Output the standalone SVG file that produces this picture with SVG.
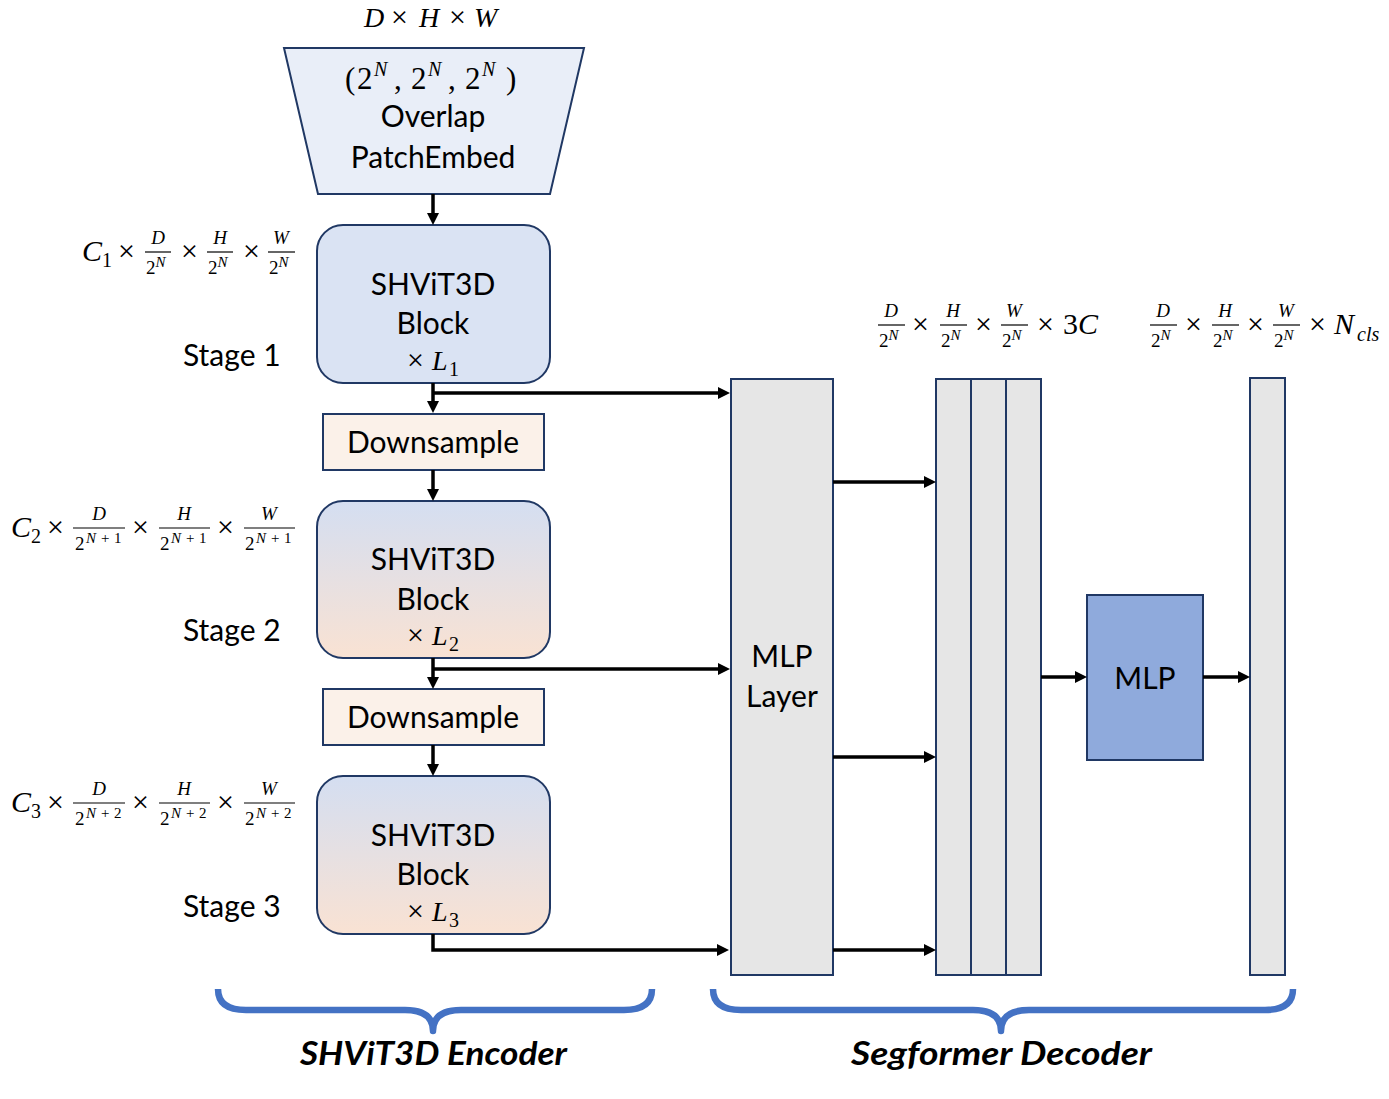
<svg xmlns="http://www.w3.org/2000/svg" width="1389" height="1099" viewBox="0 0 1389 1099">
<style>
.t{font-family:Lato,"Open Sans","Liberation Sans",sans-serif;font-size:30px;fill:#000}
.m{font-family:"Liberation Serif","DejaVu Serif",serif;font-size:28px;fill:#000}
.x{font-family:"Liberation Serif","DejaVu Serif",serif;font-size:30px;fill:#000}
.i{font-style:italic}
.n{font-family:"Liberation Serif","DejaVu Serif",serif;font-size:19px;font-style:italic;fill:#000}
.d{font-family:"Liberation Serif","DejaVu Serif",serif;font-size:19px;fill:#000}
.s{font-size:15px;font-style:italic}
.p{font-size:15px}
.sb{font-size:20px;font-style:italic}
.sub{font-size:20px}
.fl{stroke:#000;stroke-width:1.2}
.box{stroke:#203864;stroke-width:2}
.gray{fill:#E6E6E6}
.con{fill:none;stroke:#000;stroke-width:3.5}
.brace{fill:none;stroke:#4472C4;stroke-width:6.5;stroke-linejoin:round;stroke-linecap:butt}
.lab{font-family:Lato,"Open Sans","Liberation Sans",sans-serif;font-size:33px;font-weight:bold;font-style:italic;fill:#000}
</style>
<defs>
<marker id="ah" markerUnits="userSpaceOnUse" markerWidth="12" markerHeight="12" viewBox="0 0 12 12" refX="0" refY="6" orient="auto">
<path d="M0,0 L12,6 L0,12 z" fill="#000"/>
</marker>
<linearGradient id="g" x1="0" y1="0" x2="0" y2="1">
<stop offset="0" stop-color="#D4DEF1"/>
<stop offset="1" stop-color="#F9E2D3"/>
</linearGradient>
</defs>
<rect width="1389" height="1099" fill="#fff"/>

<g id="input-size">
<text class="m i" x="364" y="27">D</text>
<text class="x" x="391" y="27">×</text>
<text class="m i" x="419" y="27">H</text>
<text class="x" x="449" y="27">×</text>
<text class="m i" x="474" y="27">W</text>
</g>

<g id="patch-embed">
<polygon class="box" points="284,48 584,48 550,194 318,194" fill="#E9EEF8"/>
<text class="m" y="89" style="font-size:31px"><tspan x="345">(</tspan><tspan x="357">2</tspan><tspan x="411">2</tspan><tspan x="465">2</tspan><tspan x="506">)</tspan><tspan x="394">,</tspan><tspan x="448">,</tspan></text>
<text class="m sb" y="76"><tspan x="374">N</tspan><tspan x="428">N</tspan><tspan x="482">N</tspan></text>
<text class="t" x="433" y="127" text-anchor="middle">Overlap</text>
<text class="t" x="433" y="168" text-anchor="middle">PatchEmbed</text>
</g>

<g id="stage1">
<rect class="box" x="317" y="225" width="233" height="158" rx="26" fill="#DAE3F3"/>
<text class="t" x="433" y="295" text-anchor="middle">SHViT3D</text>
<text class="t" x="433" y="334" text-anchor="middle">Block</text>
<text class="x" x="407" y="370">×</text>
<text class="m i" x="432" y="370">L</text>
<text class="m sub" x="449" y="376">1</text>
<text class="t" x="183" y="366">Stage 1</text>
</g>

<g id="shape1">
<text class="m i" x="82" y="261" style="font-size:30px">C</text>
<text class="m sub" x="102" y="267">1</text>
<text class="x" x="118" y="261">×</text>
<line class="fl" x1="145" y1="252" x2="171" y2="252"/>
<text class="n" x="158" y="244" text-anchor="middle">D</text>
<text class="d" y="274"><tspan x="146">2</tspan><tspan class="s" dy="-7">N</tspan></text>
<text class="x" x="181" y="261">×</text>
<line class="fl" x1="207" y1="252" x2="233" y2="252"/>
<text class="n" x="220" y="244" text-anchor="middle">H</text>
<text class="d" y="274"><tspan x="208">2</tspan><tspan class="s" dy="-7">N</tspan></text>
<text class="x" x="243" y="261">×</text>
<line class="fl" x1="268" y1="252" x2="295" y2="252"/>
<text class="n" x="281" y="244" text-anchor="middle">W</text>
<text class="d" y="274"><tspan x="269">2</tspan><tspan class="s" dy="-7">N</tspan></text>
</g>

<g id="downsample1">
<rect class="box" x="323" y="414" width="221" height="56" fill="#FBF1E9"/>
<text class="t" x="433" y="453" text-anchor="middle">Downsample</text>
</g>

<g id="stage2">
<rect class="box" x="317" y="501" width="233" height="157" rx="26" fill="url(#g)"/>
<text class="t" x="433" y="570" text-anchor="middle">SHViT3D</text>
<text class="t" x="433" y="610" text-anchor="middle">Block</text>
<text class="x" x="407" y="645">×</text>
<text class="m i" x="432" y="645">L</text>
<text class="m sub" x="449" y="651">2</text>
<text class="t" x="183" y="641">Stage 2</text>
</g>

<g id="shape2">
<text class="m i" x="11" y="537" style="font-size:30px">C</text>
<text class="m sub" x="31" y="543">2</text>
<text class="x" x="47" y="537">×</text>
<line class="fl" x1="73" y1="528" x2="125" y2="528"/>
<text class="n" x="99" y="520" text-anchor="middle">D</text>
<text class="d" y="550"><tspan x="75">2</tspan><tspan class="s" dy="-7" x="86">N</tspan><tspan class="p" x="101">+</tspan><tspan class="p" x="114">1</tspan></text>
<text class="x" x="132" y="537">×</text>
<line class="fl" x1="159" y1="528" x2="210" y2="528"/>
<text class="n" x="184" y="520" text-anchor="middle">H</text>
<text class="d" y="550"><tspan x="160">2</tspan><tspan class="s" dy="-7" x="171">N</tspan><tspan class="p" x="186">+</tspan><tspan class="p" x="199">1</tspan></text>
<text class="x" x="217" y="537">×</text>
<line class="fl" x1="244" y1="528" x2="295" y2="528"/>
<text class="n" x="269" y="520" text-anchor="middle">W</text>
<text class="d" y="550"><tspan x="245">2</tspan><tspan class="s" dy="-7" x="256">N</tspan><tspan class="p" x="271">+</tspan><tspan class="p" x="284">1</tspan></text>
</g>

<g id="downsample2">
<rect class="box" x="323" y="689" width="221" height="56" fill="#FBF1E9"/>
<text class="t" x="433" y="728" text-anchor="middle">Downsample</text>
</g>

<g id="stage3">
<rect class="box" x="317" y="776" width="233" height="158" rx="26" fill="url(#g)"/>
<text class="t" x="433" y="846" text-anchor="middle">SHViT3D</text>
<text class="t" x="433" y="885" text-anchor="middle">Block</text>
<text class="x" x="407" y="921">×</text>
<text class="m i" x="432" y="921">L</text>
<text class="m sub" x="449" y="927">3</text>
<text class="t" x="183" y="917">Stage 3</text>
</g>

<g id="shape3">
<text class="m i" x="11" y="812" style="font-size:30px">C</text>
<text class="m sub" x="31" y="818">3</text>
<text class="x" x="47" y="812">×</text>
<line class="fl" x1="73" y1="803" x2="125" y2="803"/>
<text class="n" x="99" y="795" text-anchor="middle">D</text>
<text class="d" y="825"><tspan x="75">2</tspan><tspan class="s" dy="-7" x="86">N</tspan><tspan class="p" x="101">+</tspan><tspan class="p" x="114">2</tspan></text>
<text class="x" x="132" y="812">×</text>
<line class="fl" x1="159" y1="803" x2="210" y2="803"/>
<text class="n" x="184" y="795" text-anchor="middle">H</text>
<text class="d" y="825"><tspan x="160">2</tspan><tspan class="s" dy="-7" x="171">N</tspan><tspan class="p" x="186">+</tspan><tspan class="p" x="199">2</tspan></text>
<text class="x" x="217" y="812">×</text>
<line class="fl" x1="244" y1="803" x2="295" y2="803"/>
<text class="n" x="269" y="795" text-anchor="middle">W</text>
<text class="d" y="825"><tspan x="245">2</tspan><tspan class="s" dy="-7" x="256">N</tspan><tspan class="p" x="271">+</tspan><tspan class="p" x="284">2</tspan></text>
</g>

<g id="mlp-layer">
<rect class="box gray" x="731" y="379" width="102" height="596"/>
<text class="t" x="782" y="667" text-anchor="middle">MLP</text>
<text class="t" x="782" y="707" text-anchor="middle">Layer</text>
</g>

<g id="concat-features">
<rect class="box gray" x="936" y="379" width="35" height="596"/>
<rect class="box gray" x="971" y="379" width="35" height="596"/>
<rect class="box gray" x="1006" y="379" width="35" height="596"/>
</g>

<g id="shape-concat">
<line class="fl" x1="878" y1="325" x2="905" y2="325"/>
<text class="n" x="891" y="317" text-anchor="middle">D</text>
<text class="d" y="347"><tspan x="879">2</tspan><tspan class="s" dy="-7">N</tspan></text>
<text class="x" x="912" y="334">×</text>
<line class="fl" x1="940" y1="325" x2="967" y2="325"/>
<text class="n" x="953" y="317" text-anchor="middle">H</text>
<text class="d" y="347"><tspan x="941">2</tspan><tspan class="s" dy="-7">N</tspan></text>
<text class="x" x="975" y="334">×</text>
<line class="fl" x1="1001" y1="325" x2="1028" y2="325"/>
<text class="n" x="1014" y="317" text-anchor="middle">W</text>
<text class="d" y="347"><tspan x="1002">2</tspan><tspan class="s" dy="-7">N</tspan></text>
<text class="x" x="1037" y="334">×</text>
<text class="m" x="1063" y="334" style="font-size:30px">3<tspan class="i">C</tspan></text>
</g>

<g id="mlp">
<rect class="box" x="1087" y="595" width="116" height="165" fill="#8FAADC"/>
<text class="t" x="1145" y="689" text-anchor="middle">MLP</text>
</g>

<g id="output">
<rect class="box gray" x="1250" y="378" width="35" height="597"/>
</g>

<g id="shape-output">
<line class="fl" x1="1150" y1="325" x2="1177" y2="325"/>
<text class="n" x="1163" y="317" text-anchor="middle">D</text>
<text class="d" y="347"><tspan x="1151">2</tspan><tspan class="s" dy="-7">N</tspan></text>
<text class="x" x="1185" y="334">×</text>
<line class="fl" x1="1212" y1="325" x2="1239" y2="325"/>
<text class="n" x="1225" y="317" text-anchor="middle">H</text>
<text class="d" y="347"><tspan x="1213">2</tspan><tspan class="s" dy="-7">N</tspan></text>
<text class="x" x="1247" y="334">×</text>
<line class="fl" x1="1273" y1="325" x2="1300" y2="325"/>
<text class="n" x="1286" y="317" text-anchor="middle">W</text>
<text class="d" y="347"><tspan x="1274">2</tspan><tspan class="s" dy="-7">N</tspan></text>
<text class="x" x="1309" y="334">×</text>
<text class="m i" x="1334" y="334" style="font-size:30px">N</text>
<text class="m sb" x="1357" y="341">cls</text>
</g>

<g id="connectors">
<path class="con" d="M433,194 V213" marker-end="url(#ah)"/>
<path class="con" d="M433,383 V401" marker-end="url(#ah)"/>
<path class="con" d="M433,393 H718" marker-end="url(#ah)"/>
<path class="con" d="M433,470 V489" marker-end="url(#ah)"/>
<path class="con" d="M433,658 V677" marker-end="url(#ah)"/>
<path class="con" d="M433,669 H718" marker-end="url(#ah)"/>
<path class="con" d="M433,745 V764" marker-end="url(#ah)"/>
<path class="con" d="M433,934 V950 H717" marker-end="url(#ah)"/>
<path class="con" d="M833,482 H924" marker-end="url(#ah)"/>
<path class="con" d="M833,757 H924" marker-end="url(#ah)"/>
<path class="con" d="M833,950 H924" marker-end="url(#ah)"/>
<path class="con" d="M1041,677 H1075" marker-end="url(#ah)"/>
<path class="con" d="M1203,677 H1238" marker-end="url(#ah)"/>
</g>

<g id="encoder-brace">
<path class="brace" d="M218,989 Q218,1010 246,1010 L405,1010 Q433,1010 433,1031 Q433,1010 461,1010 L624,1010 Q652,1010 652,989"/>
<text class="lab" x="300" y="1065" textLength="267" lengthAdjust="spacingAndGlyphs">SHViT3D Encoder</text>
</g>

<g id="decoder-brace">
<path class="brace" d="M713,989 Q713,1010 741,1010 L973,1010 Q1001,1010 1001,1031 Q1001,1010 1029,1010 L1265,1010 Q1293,1010 1293,989"/>
<text class="lab" x="851" y="1065" textLength="301" lengthAdjust="spacingAndGlyphs">Segformer Decoder</text>
</g>
</svg>
